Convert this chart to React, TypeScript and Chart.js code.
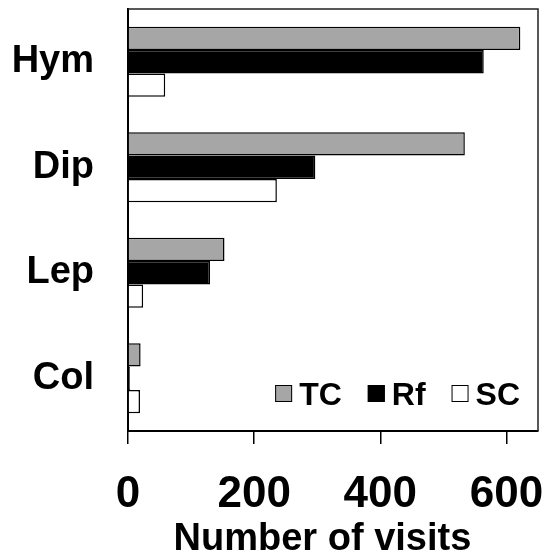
import React, { useEffect, useRef } from "react";
import { Chart, registerables } from "chart.js";

Chart.register(...registerables);

const categories = ["Hym", "Dip", "Lep", "Col"];
const seriesNames = ["TC", "Rf", "SC"];
const tcValues = [622, 534, 153, 20];
const rfValues = [564, 297, 130, 3];
const scValues = [59, 236, 24, 19];
const xTickValues = [0, 200, 400, 600];
const xMin = 0;
const xMax = 650;
const axisTitle = "Number of visits";

const FONT = '"Liberation Sans", Arial, Helvetica, sans-serif';

const framePlugin = {
  id: "frame",
  afterDraw(chart: any) {
    const { ctx, chartArea } = chart;
    ctx.save();
    ctx.strokeStyle = "#222";
    ctx.lineWidth = 1.5;
    ctx.beginPath();
    ctx.moveTo(chartArea.left, chartArea.top);
    ctx.lineTo(chartArea.right, chartArea.top);
    ctx.lineTo(chartArea.right, chartArea.bottom);
    ctx.stroke();
    ctx.restore();
  },
};

const insideLegendPlugin = {
  id: "insideLegend",
  afterDraw(chart: any) {
    const { ctx, chartArea } = chart;
    const ds = chart.data.datasets;
    ctx.save();
    ctx.font = `bold 32px ${FONT}`;
    ctx.textBaseline = "alphabetic";
    ctx.textAlign = "left";
    const baseline = chartArea.bottom - 26;
    const box = 17;
    let x = chartArea.right - 18;
    for (let i = ds.length - 1; i >= 0; i--) {
      const label = ds[i].label as string;
      const w = ctx.measureText(label).width;
      const textX = x - w;
      const boxX = textX - 7 - box;
      ctx.fillStyle = ds[i].backgroundColor;
      ctx.fillRect(boxX, baseline - 20, box, box);
      ctx.strokeStyle = "#000";
      ctx.lineWidth = 1;
      ctx.strokeRect(boxX + 0.5, baseline - 20 + 0.5, box - 1, box - 1);
      ctx.fillStyle = "#000";
      ctx.fillText(label, textX, baseline);
      x = boxX - 26;
    }
    ctx.restore();
  },
};

const zeroPadding = (s: any) => {
  s.paddingTop = 0;
  s.paddingBottom = 0;
  s.paddingLeft = 0;
  s.paddingRight = 0;
};

export default function App() {
  const ref = useRef<HTMLCanvasElement | null>(null);

  useEffect(() => {
    if (!ref.current) return;
    const colors = ["#a6a6a6", "#000000", "#ffffff"];
    const values = [tcValues, rfValues, scValues];
    const chart = new Chart(ref.current, {
      type: "bar",
      data: {
        labels: categories,
        datasets: seriesNames.map((name, i) => ({
          label: name,
          data: values[i],
          backgroundColor: colors[i],
          borderColor: "#000",
          borderWidth: 1.5,
          categoryPercentage: 0.663,
          barPercentage: 1,
        })),
      },
      options: {
        indexAxis: "y",
        responsive: false,
        animation: false,
        devicePixelRatio: 1,
        layout: { padding: { top: 9, right: 8, left: 0, bottom: 0 } },
        plugins: {
          legend: { display: false },
          tooltip: { enabled: false },
          title: { display: false },
        },
        scales: {
          x: {
            type: "linear",
            min: xMin,
            max: xMax,
            afterBuildTicks: (s: any) => {
              s.ticks = xTickValues.map((v) => ({ value: v }));
            },
            afterFit: (s: any) => {
              s.height = 126;
              zeroPadding(s);
            },
            grid: {
              display: true,
              drawOnChartArea: false,
              drawTicks: true,
              tickLength: 13,
              color: "#000",
              lineWidth: 1.5,
            },
            border: { display: true, color: "#000", width: 2 },
            ticks: {
              font: { family: FONT, size: 44, weight: "bold" },
              color: "#000",
              padding: 24,
              maxRotation: 0,
              autoSkip: false,
            },
            title: {
              display: true,
              text: axisTitle + "  ",
              font: { family: FONT, size: 38, weight: "bold", lineHeight: 0.9 },
              color: "#000",
              padding: 0,
            },
          },
          y: {
            type: "category",
            z: 1,
            afterFit: (s: any) => {
              s.width = 128;
              zeroPadding(s);
            },
            grid: { display: false, drawTicks: false },
            border: { display: true, color: "#000", width: 2 },
            ticks: {
              font: { family: FONT, size: 38, weight: "bold" },
              color: "#000",
              padding: 34,
            },
          },
        },
      } as any,
      plugins: [framePlugin, insideLegendPlugin],
    });
    return () => chart.destroy();
  }, []);

  return (
    <div style={{ position: "absolute", left: 0, top: 0, width: 546, height: 557, background: "#fff" }}>
      <canvas ref={ref} width={546} height={557} style={{ display: "block" }} />
    </div>
  );
}
